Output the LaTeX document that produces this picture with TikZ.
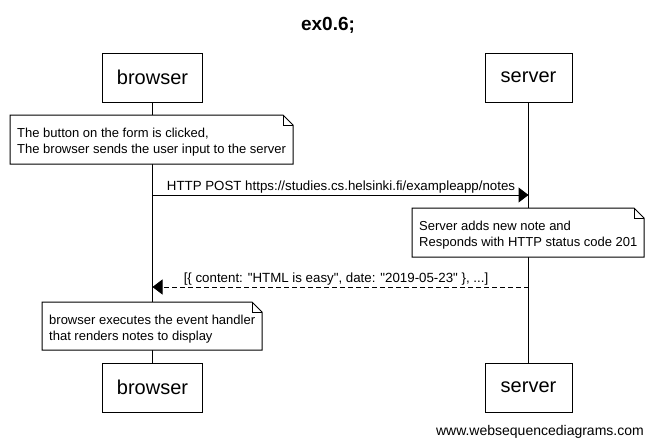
\documentclass[tikz,border=0pt]{standalone}
\usepackage{fontspec}
\setmainfont{Liberation Sans}[Ligatures=TeXOff]
\usetikzlibrary{arrows.meta}
\tikzset{
  actor/.style={draw, line width=1pt, fill=white, minimum width=87pt, minimum height=49pt, inner sep=0pt, font=\fontsize{20}{24}\selectfont},
  actorb/.style={actor, minimum width=100pt},
  notetext/.style={inner sep=0pt, align=left, anchor=north west, font=\fontsize{13}{15.5}\selectfont},
  noteline/.style={line width=1pt, fill=white},
  lifeline/.style={line width=1pt},
  msg/.style={line width=1pt, -{Triangle[length=10pt, width=15pt]}},
  reply/.style={msg, dash pattern=on 5pt off 3pt},
  msglabel/.style={inner sep=0pt, anchor=base, font=\fontsize{13.3}{15.5}\selectfont},
}
\newcommand\drawnote[4]{% x1,y1,x2,y2
  \draw[noteline] (#1,#2) -- (#3-10,#2) -- (#3,#2+10) -- (#3,#4) -- (#1,#4) -- cycle;
  \draw[line width=0.6pt] (#3-10,#2) -- (#3-10,#2+10) -- (#3,#2+10);
}
\begin{document}
\begin{tikzpicture}[x=1pt,y=-1pt]
\useasboundingbox (0,0) rectangle (653,447);
\fill[white] (0,0) rectangle (653,447);

\node[anchor=base, inner sep=0pt, font=\bfseries\fontsize{19}{22}\selectfont] (title) at (328,30) {ex0.6;};

\node[actorb] (bt) at (152.5,77.5) {browser};
\node[actor] (st) at (528.5,77.5) {server};
\node[actorb] (bb) at (152.5,387.5) {browser};
\node[actor] (sb) at (528.5,387.5) {server};

\draw[lifeline] (bt.south) -- (bb.north);
\draw[lifeline] (st.south) -- (sb.north);

% note 1
\drawnote{10}{115}{293}{164}
\node[notetext] (n1) at (17,128) {The button on the form is clicked,\\The browser sends the user input to the server};

% message 1
\coordinate (m1s) at (152.5,195);
\coordinate (m1e) at (528.5,195);
\draw[msg] (m1s) -- (m1e);
\node[msglabel] (l1) at (341,190) {HTTP POST https://studies.cs.helsinki.fi/exampleapp/notes};

% note 2
\drawnote{412}{208}{644}{257}
\node[notetext] (n2) at (419,221) {Server adds new note and\\Responds with HTTP status code 201};

% message 2
\coordinate (m2s) at (528.5,287);
\coordinate (m2e) at (152.5,287);
\draw[reply] (m2s) -- (m2e);
\node[msglabel] (l2) at (336,282) {[\{ content: "HTML is easy", date: "2019-05-23" \}, ...]};

% note 3
\drawnote{42}{302}{262}{350}
\node[notetext] (n3) at (49,315) {browser executes the event handler\\that renders notes to display};

\node[anchor=base east, inner sep=0pt, font=\fontsize{14}{16}\selectfont] (wsd) at (644,435) {www.websequencediagrams.com};
\end{tikzpicture}
\end{document}
